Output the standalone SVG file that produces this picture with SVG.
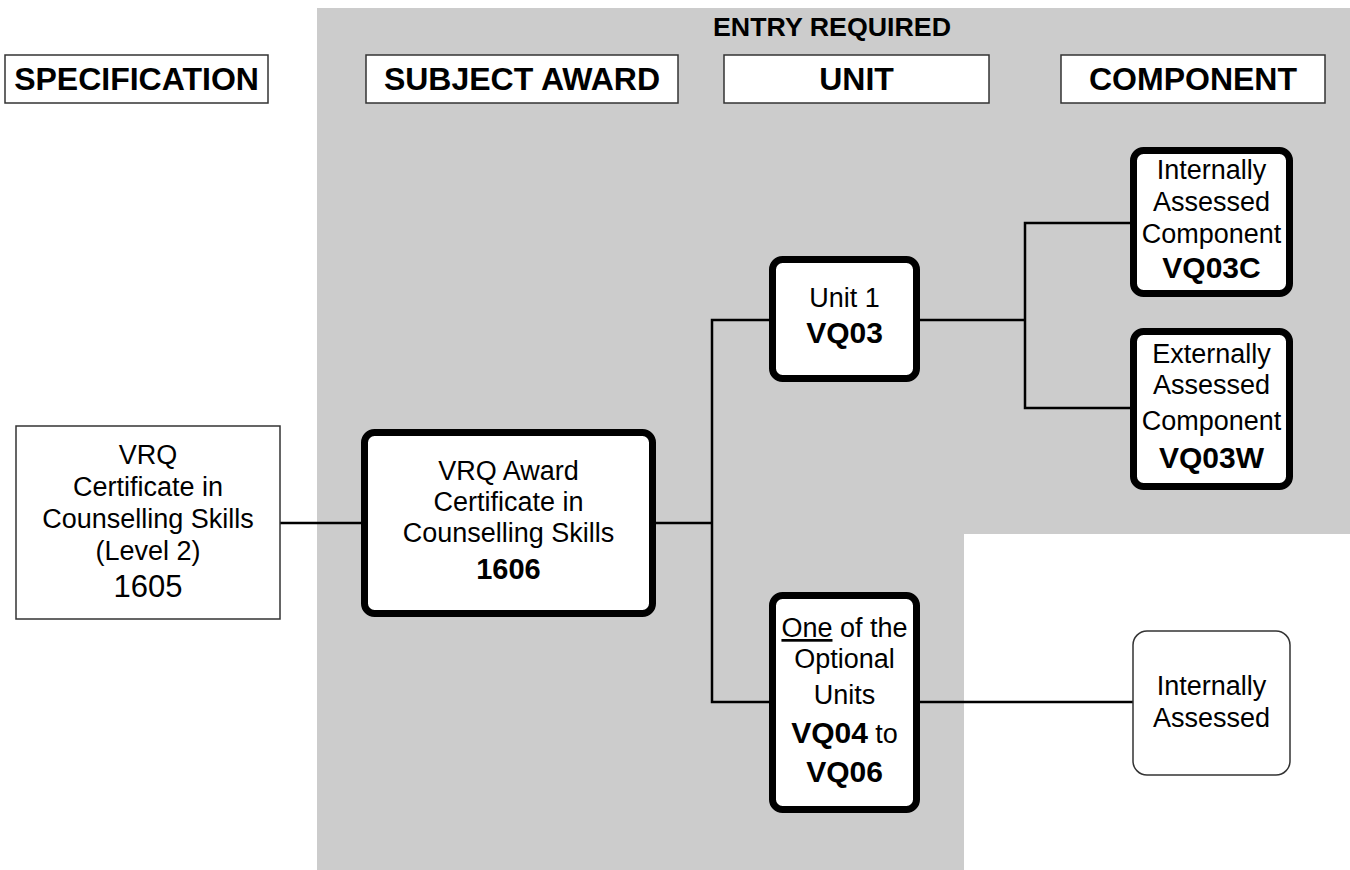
<svg xmlns="http://www.w3.org/2000/svg" width="1350" height="870" viewBox="0 0 1350 870">
  <style>
    text { font-family: "Liberation Sans", Arial, sans-serif; fill: #000; text-anchor: middle; }
    .hdr { font-size: 32px; font-weight: bold; }
    .t { font-size: 27px; }
    .b { font-weight: bold; }
    .big { font-size: 30px; }
    .head-box { fill: #fff; stroke: #333; stroke-width: 1.5; }
    .plain { fill: #fff; stroke: #333; stroke-width: 1.5; }
    .thick { fill: #fff; stroke: #000; stroke-width: 7; }
    .wire { fill: none; stroke: #000; stroke-width: 2.5; }
  </style>

  <!-- background and entry-required zone -->
  <rect x="0" y="0" width="1350" height="870" fill="#fff"/>
  <path d="M317,8 H1350 V534 H964 V870 H317 Z" fill="#cccccc"/>
  <text x="832" y="36" class="b" style="font-size:25px" textLength="238" lengthAdjust="spacingAndGlyphs">ENTRY REQUIRED</text>

  <!-- column headers -->
  <g id="hdr-specification">
    <rect class="head-box" x="5" y="55" width="263" height="48"/>
    <text class="hdr" x="136.5" y="90">SPECIFICATION</text>
  </g>
  <g id="hdr-subject-award">
    <rect class="head-box" x="366" y="55" width="312" height="48"/>
    <text class="hdr" x="522" y="90">SUBJECT AWARD</text>
  </g>
  <g id="hdr-unit">
    <rect class="head-box" x="724" y="55" width="265" height="48"/>
    <text class="hdr" x="856.5" y="90">UNIT</text>
  </g>
  <g id="hdr-component">
    <rect class="head-box" x="1061" y="55" width="264" height="48"/>
    <text class="hdr" x="1193" y="90">COMPONENT</text>
  </g>

  <!-- connectors -->
  <g id="connectors">
    <path class="wire" d="M280,523 H361"/>
    <path class="wire" d="M656,523 H712"/>
    <path class="wire" d="M772,320 H712 V702 H772"/>
    <path class="wire" d="M917,320 H1025"/>
    <path class="wire" d="M1133,223 H1025 V408 H1133"/>
    <path class="wire" d="M917,702 H1133"/>
  </g>

  <!-- specification -->
  <g id="spec-1605">
    <rect class="plain" x="16" y="426" width="264" height="193"/>
    <text class="t" x="148" y="464">VRQ</text>
    <text class="t" x="148" y="496">Certificate in</text>
    <text class="t" x="148" y="528">Counselling Skills</text>
    <text class="t" x="148" y="560">(Level 2)</text>
    <text x="148" y="597" style="font-size:31px">1605</text>
  </g>

  <!-- subject award -->
  <g id="award-1606">
    <rect class="thick" x="364.5" y="432.5" width="288" height="181" rx="10"/>
    <text class="t" x="508.5" y="480">VRQ Award</text>
    <text class="t" x="508.5" y="511">Certificate in</text>
    <text class="t" x="508.5" y="542">Counselling Skills</text>
    <text class="t b" x="508.5" y="579" style="font-size:29px">1606</text>
  </g>

  <!-- units -->
  <g id="unit-vq03">
    <rect class="thick" x="772.5" y="259.5" width="144" height="119" rx="10"/>
    <text class="t" x="844.5" y="307">Unit 1</text>
    <text class="t b big" x="844.5" y="343">VQ03</text>
  </g>
  <g id="unit-optional">
    <rect class="thick" x="772.5" y="595.5" width="144" height="214" rx="10"/>
    <text class="t" x="844.5" y="637"><tspan text-decoration="underline">One</tspan> of the</text>
    <text class="t" x="844.5" y="668">Optional</text>
    <text class="t" x="844.5" y="704">Units</text>
    <text class="t" x="844.5" y="743"><tspan class="b big">VQ04</tspan> to</text>
    <text class="t b big" x="844.5" y="782">VQ06</text>
  </g>

  <!-- components -->
  <g id="comp-vq03c">
    <rect class="thick" x="1133.5" y="150.5" width="156" height="143" rx="10"/>
    <text class="t" x="1211.5" y="179">Internally</text>
    <text class="t" x="1211.5" y="211">Assessed</text>
    <text class="t" x="1211.5" y="243">Component</text>
    <text class="t b big" x="1211.5" y="278">VQ03C</text>
  </g>
  <g id="comp-vq03w">
    <rect class="thick" x="1133.5" y="331.5" width="156" height="155" rx="10"/>
    <text class="t" x="1211.5" y="363">Externally</text>
    <text class="t" x="1211.5" y="394">Assessed</text>
    <text class="t" x="1211.5" y="430">Component</text>
    <text class="t b big" x="1211.5" y="468">VQ03W</text>
  </g>
  <g id="comp-internal">
    <rect class="plain" x="1133" y="631" width="157" height="144" rx="14"/>
    <text class="t" x="1211.5" y="695">Internally</text>
    <text class="t" x="1211.5" y="727">Assessed</text>
  </g>
</svg>
